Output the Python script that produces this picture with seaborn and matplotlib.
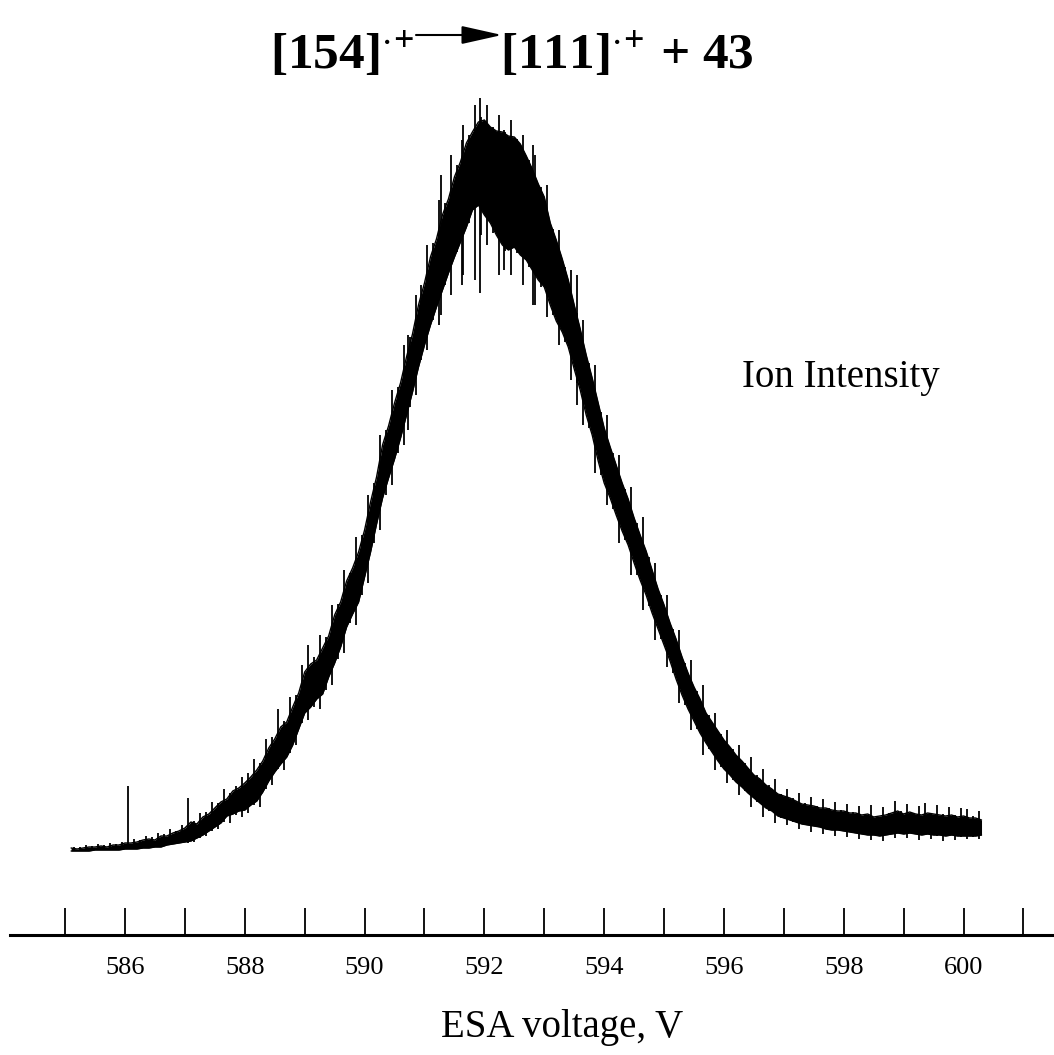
import numpy as np
import pandas as pd
import matplotlib
matplotlib.use('Agg')
import matplotlib.pyplot as plt
import seaborn as sns

# ESA scan of the [154]+. -> [111]+. transition
# intensity in arbitrary units (band top / band bottom every 0.1 V)
volts = [
    585.1, 585.2, 585.3, 585.4, 585.5, 585.6, 585.7, 585.8, 585.9, 586.0,
    586.1, 586.2, 586.3, 586.4, 586.5, 586.6, 586.7, 586.8, 586.9, 587.0,
    587.1, 587.2, 587.3, 587.4, 587.5, 587.6, 587.7, 587.8, 587.9, 588.0,
    588.1, 588.2, 588.3, 588.4, 588.5, 588.6, 588.7, 588.8, 588.9, 589.0,
    589.1, 589.2, 589.3, 589.4, 589.5, 589.6, 589.7, 589.8, 589.9, 590.0,
    590.1, 590.2, 590.3, 590.4, 590.5, 590.6, 590.7, 590.8, 590.9, 591.0,
    591.1, 591.2, 591.3, 591.4, 591.5, 591.6, 591.7, 591.8, 591.9, 592.0,
    592.1, 592.2, 592.3, 592.4, 592.5, 592.6, 592.7, 592.8, 592.9, 593.0,
    593.1, 593.2, 593.3, 593.4, 593.5, 593.6, 593.7, 593.8, 593.9, 594.0,
    594.1, 594.2, 594.3, 594.4, 594.5, 594.6, 594.7, 594.8, 594.9, 595.0,
    595.1, 595.2, 595.3, 595.4, 595.5, 595.6, 595.7, 595.8, 595.9, 596.0,
    596.1, 596.2, 596.3, 596.4, 596.5, 596.6, 596.7, 596.8, 596.9, 597.0,
    597.1, 597.2, 597.3, 597.4, 597.5, 597.6, 597.7, 597.8, 597.9, 598.0,
    598.1, 598.2, 598.3, 598.4, 598.5, 598.6, 598.7, 598.8, 598.9, 599.0,
    599.1, 599.2, 599.3, 599.4, 599.5, 599.6, 599.7, 599.8, 599.9, 600.0,
    600.1, 600.2, 600.3]

int_hi = [
    87, 86, 87, 88, 88, 89, 88, 90, 90, 92,
    92, 93, 95, 96, 95, 99, 99, 102, 104, 107,
    113, 111, 118, 121, 127, 133, 136, 144, 147, 152,
    158, 165, 174, 187, 196, 208, 213, 228, 242, 263,
    271, 275, 287, 299, 320, 333, 354, 367, 383, 405,
    433, 458, 490, 509, 532, 552, 578, 601, 630, 652,
    678, 696, 720, 736, 758, 773, 792, 803, 813, 815,
    808, 804, 803, 799, 798, 791, 779, 766, 751, 738,
    712, 695, 676, 655, 630, 606, 580, 557, 532, 507,
    488, 470, 452, 436, 417, 400, 384, 365, 346, 330,
    312, 296, 278, 262, 248, 236, 222, 213, 204, 195,
    188, 180, 174, 167, 160, 156, 150, 146, 141, 139,
    137, 134, 131, 130, 129, 127, 127, 125, 124, 124,
    122, 122, 120, 121, 118, 119, 120, 122, 124, 121,
    123, 121, 120, 122, 121, 120, 119, 120, 118, 119,
    117, 117, 115]

int_lo = [
    84, 84, 84, 84, 85, 85, 85, 85, 85, 86,
    86, 86, 87, 87, 88, 88, 90, 91, 92, 93,
    94, 97, 100, 104, 108, 112, 119, 121, 124, 125,
    130, 134, 143, 154, 163, 171, 178, 190, 206, 222,
    228, 236, 241, 258, 272, 288, 308, 321, 333, 358,
    383, 411, 437, 457, 476, 497, 520, 543, 568, 590,
    610, 628, 645, 662, 678, 693, 708, 725, 730, 720,
    712, 700, 690, 685, 688, 680, 675, 665, 655, 648,
    630, 614, 603, 588, 566, 545, 520, 500, 474, 452,
    437, 420, 404, 390, 372, 355, 340, 322, 306, 290,
    274, 256, 240, 226, 214, 202, 192, 183, 174, 166,
    160, 153, 148, 142, 137, 132, 127, 124, 119, 117,
    115, 113, 111, 110, 109, 108, 106, 105, 105, 104,
    103, 102, 101, 100, 100, 99, 100, 101, 102, 101,
    102, 101, 100, 101, 100, 100, 99, 100, 99, 99,
    99, 99, 100]

# sharp noise spikes between the samples (position, top, bottom)
spike_v = [
    585.15, 585.25, 585.35, 585.45, 585.55, 585.65, 585.75, 585.85, 585.95, 586.05,
    586.15, 586.25, 586.35, 586.45, 586.55, 586.65, 586.75, 586.85, 586.95, 587.05,
    587.15, 587.25, 587.35, 587.45, 587.55, 587.65, 587.75, 587.85, 587.95, 588.05,
    588.15, 588.25, 588.35, 588.45, 588.55, 588.65, 588.75, 588.85, 588.95, 589.05,
    589.15, 589.25, 589.35, 589.45, 589.55, 589.65, 589.75, 589.85, 589.95, 590.05,
    590.15, 590.25, 590.35, 590.45, 590.55, 590.65, 590.75, 590.85, 590.95, 591.05,
    591.15, 591.25, 591.35, 591.45, 591.55, 591.65, 591.75, 591.85, 591.95, 592.05,
    592.15, 592.25, 592.35, 592.45, 592.55, 592.65, 592.75, 592.85, 592.95, 593.05,
    593.15, 593.25, 593.35, 593.45, 593.55, 593.65, 593.75, 593.85, 593.95, 594.05,
    594.15, 594.25, 594.35, 594.45, 594.55, 594.65, 594.75, 594.85, 594.95, 595.05,
    595.15, 595.25, 595.35, 595.45, 595.55, 595.65, 595.75, 595.85, 595.95, 596.05,
    596.15, 596.25, 596.35, 596.45, 596.55, 596.65, 596.75, 596.85, 596.95, 597.05,
    597.15, 597.25, 597.35, 597.45, 597.55, 597.65, 597.75, 597.85, 597.95, 598.05,
    598.15, 598.25, 598.35, 598.45, 598.55, 598.65, 598.75, 598.85, 598.95, 599.05,
    599.15, 599.25, 599.35, 599.45, 599.55, 599.65, 599.75, 599.85, 599.95, 600.05,
    600.15, 600.25,
    590.72, 591.28, 591.62, 591.92, 592.32, 592.82, 593.55]
spike_top = [
    88, 88, 90, 89, 91, 90, 92, 91, 93, 149,
    96, 95, 99, 98, 102, 101, 106, 104, 110, 137,
    114, 122, 123, 133, 132, 146, 142, 149, 158, 162,
    176, 172, 196, 198, 226, 214, 238, 240, 270, 290,
    278, 300, 298, 330, 331, 365, 362, 398, 400, 440,
    452, 500, 505, 545, 548, 590, 598, 640, 650, 690,
    692, 735, 732, 780, 770, 810, 800, 830, 818, 830,
    808, 820, 803, 815, 796, 800, 775, 780, 748, 750,
    706, 705, 668, 665, 622, 615, 572, 570, 523, 520,
    482, 480, 446, 448, 412, 418, 378, 372, 340, 340,
    306, 305, 272, 275, 244, 250, 220, 222, 201, 205,
    186, 190, 172, 178, 160, 166, 150, 156, 141, 146,
    137, 142, 132, 138, 129, 136, 127, 133, 125, 131,
    123, 129, 121, 130, 119, 128, 122, 134, 124, 131,
    122, 129, 132, 122, 130, 121, 128, 120, 127, 126,
    119, 124,
    600, 760, 795, 837, 805, 790, 660]
spike_bot = [
    84, 84, 84, 84, 85, 85, 85, 85, 85, 87,
    86, 86, 87, 87, 88, 89, 90, 91, 92, 92,
    93, 97, 99, 104, 106, 113, 112, 120, 118, 122,
    130, 128, 146, 150, 166, 165, 182, 190, 212, 215,
    228, 226, 245, 250, 276, 282, 312, 310, 340, 352,
    392, 405, 440, 450, 482, 490, 528, 540, 575, 585,
    615, 610, 650, 640, 683, 660, 712, 655, 700, 690,
    702, 660, 684, 660, 682, 650, 668, 630, 648, 618,
    620, 590, 593, 555, 552, 510, 507, 462, 460, 430,
    426, 392, 395, 360, 360, 325, 329, 295, 296, 268,
    262, 232, 230, 205, 206, 180, 186, 165, 168, 152,
    155, 140, 144, 128, 133, 118, 124, 112, 117, 110,
    113, 106, 110, 103, 108, 101, 105, 99, 104, 98,
    102, 96, 100, 95, 99, 94, 100, 97, 101, 97,
    101, 95, 100, 96, 99, 94, 99, 95, 98, 96,
    98, 96,
    505, 620, 650, 642, 665, 630, 530]

major_ticks = list(range(585, 602))
tick_text = ['' if v % 2 else str(v) for v in major_ticks]

sns.set_theme(style='white')
plt.rcParams['font.family'] = ['Liberation Serif', 'DejaVu Serif']
plt.rcParams['mathtext.fontset'] = 'custom'
plt.rcParams['mathtext.rm'] = 'Liberation Serif'
plt.rcParams['mathtext.bf'] = 'Liberation Serif:bold'
plt.rcParams['mathtext.default'] = 'regular'
plt.rcParams['text.color'] = 'black'
plt.rcParams['xtick.color'] = 'black'

W, H = 1054, 1055
fig = plt.figure(figsize=(W / 100, H / 100), dpi=100)
ax = fig.add_axes([10 / W, 120 / H, 1044 / W, 840 / H])

df = pd.DataFrame({'v': volts, 'hi': int_hi, 'lo': int_lo})
ax.fill_between(df['v'], df['lo'], df['hi'], color='black', lw=0)
sns.lineplot(data=df, x='v', y='hi', color='black', lw=1.0, ax=ax)
sns.lineplot(data=df, x='v', y='lo', color='black', lw=1.0, ax=ax)
ax.vlines(spike_v, spike_bot, spike_top, color='black', lw=1.3)

ax.set_xlim(584.08, 601.51)
ax.set_ylim(0, 840)
ax.set_xlabel('')
ax.set_ylabel('')
for s in ['top', 'left', 'right']:
    ax.spines[s].set_visible(False)
ax.spines['bottom'].set_linewidth(2.2)
ax.spines['bottom'].set_color('black')
ax.set_yticks([])
ax.set_xticks(major_ticks)
ax.set_xticklabels(tick_text)
ax.tick_params(axis='x', direction='in', length=19.5, width=1.3, color='black',
               pad=16, labelsize=19, labelcolor='black', bottom=True)

fig.text(562 / W, 1 - 1027 / H, 'ESA voltage, V', ha='center', va='center',
         fontsize=28)
fig.text(742 / W, 1 - 387 / H, 'Ion Intensity', ha='left', va='baseline',
         fontsize=28)

# title: two halves joined by a filled arrow
fig.text(414 / W, 1 - 68 / H, r'[154]$^{\cdot\!+}$', ha='right', va='baseline',
         fontsize=37, fontweight='bold')
fig.text(500 / W, 1 - 68 / H, r'[111]$^{\cdot\!+}\,$+ 43', ha='left', va='baseline',
         fontsize=37, fontweight='bold')
ax.annotate('', xy=(502 / W, 1 - 35 / H), xytext=(416 / W, 1 - 35 / H),
            xycoords='figure fraction', textcoords='figure fraction',
            arrowprops=dict(arrowstyle='-|>,head_length=1.25,head_width=0.28',
                            lw=1.5, color='black', shrinkA=0, shrinkB=0,
                            mutation_scale=20))

fig.savefig('out.png', dpi=100, facecolor='white')
